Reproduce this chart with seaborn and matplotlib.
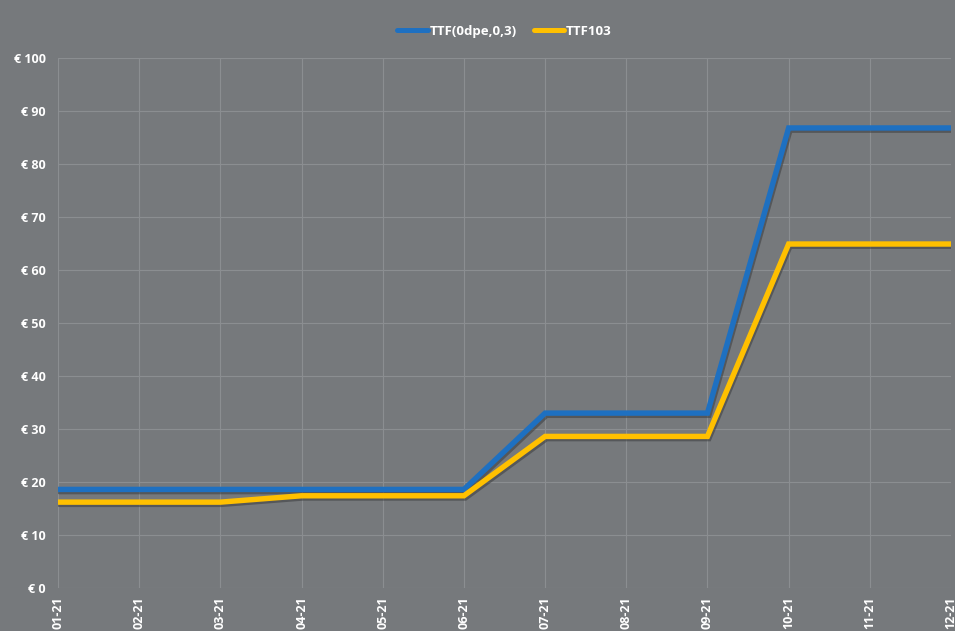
import matplotlib
matplotlib.use("Agg")
import matplotlib.pyplot as plt
import matplotlib.patheffects as pe
import seaborn as sns
import pandas as pd

months = ["01-21", "02-21", "03-21", "04-21", "05-21", "06-21",
          "07-21", "08-21", "09-21", "10-21", "11-21", "12-21"]
ttf_0dpe = [18.6, 18.6, 18.6, 18.6, 18.6, 18.6, 33.0, 33.0, 33.0, 86.8, 86.8, 86.8]
ttf_103 = [16.2, 16.2, 16.2, 17.4, 17.4, 17.4, 28.6, 28.6, 28.6, 64.9, 64.9, 64.9]
series_names = ["TTF(0dpe,0,3)", "TTF103"]
yticks = [0, 10, 20, 30, 40, 50, 60, 70, 80, 90, 100]

df = pd.DataFrame({
    "month": months * 2,
    "x": list(range(len(months))) * 2,
    "value": ttf_0dpe + ttf_103,
    "series": [series_names[0]] * len(months) + [series_names[1]] * len(months),
})

bg = "#76797c"
grid = "#8b8e91"
sns.set_theme(style="dark")
plt.rcParams["font.family"] = ["Open Sans", "DejaVu Sans"]

fig = plt.figure(figsize=(9.55, 6.31), dpi=100, facecolor=bg)
ax = fig.add_axes([58 / 955, 43 / 631, (951 - 58) / 955, (588 - 58) / 631])
ax.set_facecolor(bg)

palette = {series_names[0]: "#1e70c1", series_names[1]: "#ffc000"}
sns.lineplot(data=df, x="x", y="value", hue="series", palette=palette,
             linewidth=3.9, ax=ax, legend=True)
for line in ax.get_lines():
    line.set_path_effects([pe.SimpleLineShadow(offset=(1.0, -1.6), shadow_color="#3a3c3e", alpha=0.55),
                           pe.Normal()])
    line.set_solid_joinstyle("miter")

ax.set_xlim(0, len(months) - 1)
ax.set_ylim(0, 100)
ax.set_xticks(range(len(months)))
ax.set_xticklabels(months, rotation=90, color="white", fontsize=9, fontweight="bold")
ax.set_yticks(yticks)
ax.set_yticklabels([f"€ {v}" for v in yticks], color="white", fontsize=9, fontweight="bold")
ax.tick_params(axis="y", length=0, pad=9)
ax.tick_params(axis="x", length=0, pad=6)
ax.grid(True, color=grid, linewidth=0.8)
for s in ax.spines.values():
    s.set_visible(False)
ax.set_xlabel("")
ax.set_ylabel("")

leg = ax.legend(loc="upper center", bbox_to_anchor=(0.5, 1.085), ncol=2, frameon=False,
                handlelength=2.3, handletextpad=0.15, columnspacing=1.3,
                prop={"weight": "bold", "size": 9.5})
for t in leg.get_texts():
    t.set_color("white")
for h in leg.get_lines():
    h.set_linewidth(3.6)
    h.set_path_effects([])

fig.savefig("out.png", dpi=100, facecolor=bg)
